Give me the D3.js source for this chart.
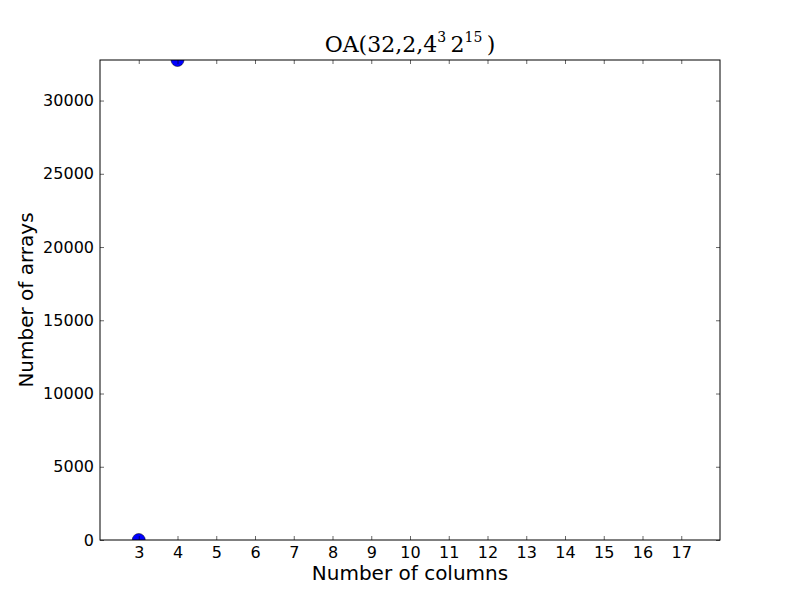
<!DOCTYPE html>
<html><head><meta charset="utf-8">
<script src="https://cdn.jsdelivr.net/npm/d3@7"></script>
<style>body{margin:0;background:#fff}</style>
</head><body>
<svg id="c" width="800" height="600"></svg>
<script>
const columns = [3, 4];
const arrays = [1, 32768];
const xTicks = [3,4,5,6,7,8,9,10,11,12,13,14,15,16,17];
const yTicks = [0,5000,10000,15000,20000,25000,30000];

const svg = d3.select("#c");
svg.append("rect").attr("width",800).attr("height",600).attr("fill","#fff");
const L=100,R=720,T=60,B=540;
const x = d3.scaleLinear().domain([2,18]).range([L,R]);
const y = d3.scaleLinear().domain([0,32768]).range([B,T]);

svg.append("defs").append("clipPath").attr("id","clip")
  .append("rect").attr("x",L).attr("y",T).attr("width",R-L).attr("height",B-T);

svg.append("g").attr("clip-path","url(#clip)").selectAll("circle")
  .data(columns.map((c,i)=>[c,arrays[i]])).join("circle")
  .attr("cx",d=>x(d[0])).attr("cy",d=>y(d[1])).attr("r",6.5)
  .attr("fill","#0000ff").attr("stroke","#000").attr("stroke-width",0.5);

const font = "DejaVu Sans, sans-serif";
const gx = svg.append("g").attr("transform",`translate(0,${B})`)
  .call(d3.axisBottom(x).tickValues(xTicks).tickSize(-4).tickPadding(6).tickFormat(d3.format("d")));
const gxt = svg.append("g").attr("transform",`translate(0,${T})`)
  .call(d3.axisTop(x).tickValues(xTicks).tickSize(-4).tickFormat(""));
const gy = svg.append("g").attr("transform",`translate(${L},0)`)
  .call(d3.axisLeft(y).tickValues(yTicks).tickSize(-4).tickPadding(6).tickFormat(d3.format("d")));
const gyr = svg.append("g").attr("transform",`translate(${R},0)`)
  .call(d3.axisRight(y).tickValues(yTicks).tickSize(-4).tickFormat(""));
[gx,gxt,gy,gyr].forEach(g=>{
  g.select(".domain").remove();
  g.selectAll("line").attr("stroke","#000").attr("stroke-width",0.6);
  g.selectAll("text").attr("font-family",font).attr("font-size",16).attr("fill","#000");
});
gx.selectAll("text").attr("dy",null).attr("y",18);

svg.append("rect").attr("x",L).attr("y",T).attr("width",R-L).attr("height",B-T)
  .attr("fill","none").attr("stroke","#000").attr("stroke-width",1);

svg.append("text").attr("x",(L+R)/2).attr("y",580).attr("text-anchor","middle")
  .attr("font-family",font).attr("font-size",20).text("Number of columns");
svg.append("text").attr("transform",`translate(33,${(T+B)/2}) rotate(-90)`).attr("text-anchor","middle")
  .attr("font-family",font).attr("font-size",20).text("Number of arrays");

const t = svg.append("text").attr("x",(L+R)/2).attr("y",52).attr("text-anchor","middle")
  .attr("font-family","DejaVu Serif, serif").attr("font-size",22);
t.append("tspan").text("OA(32,2,4");
t.append("tspan").attr("font-size",14).attr("dy",-10).text("3");
t.append("tspan").attr("dy",10).text("\u20092");
t.append("tspan").attr("font-size",14).attr("dy",-10).text("15");
t.append("tspan").attr("dy",10).text("\u2009)");
</script>
</body></html>
